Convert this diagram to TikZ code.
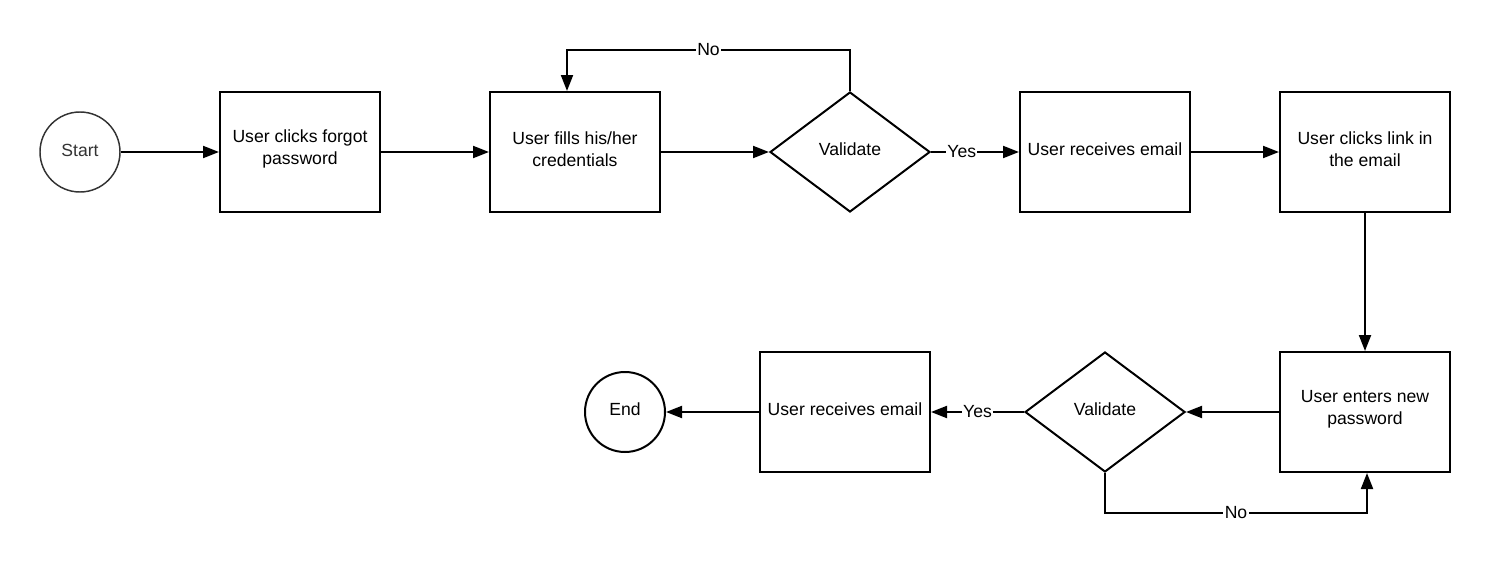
\documentclass[tikz,border=0pt]{standalone}
\usepackage{fontspec}
\setmainfont{Liberation Sans}
\usetikzlibrary{arrows.meta,shapes.geometric}
\definecolor{startgray}{HTML}{333333}
\begin{document}
\begin{tikzpicture}[x=0.75pt,y=-0.75pt,
  txt/.style={font=\fontsize{13.2}{16.5}\selectfont, inner sep=0pt},
  every node/.style={txt},
  % caption sits slightly above the shape's centre
  caption/.style={label={[txt, align=center, yshift=2.3pt]center:#1}},
  stepbox/.style={draw, line width=1.5pt, rectangle, minimum height=90pt},
  decide/.style={draw, line width=1.5pt, diamond, minimum width=120pt, minimum height=90pt},
  terminal/.style={draw, line width=1.5pt, circle, minimum size=60pt},
  flow/.style={line width=1.5pt, -{Triangle[length=12pt,width=9pt]}},
  tag/.style={fill=white, inner sep=1pt}]
  \useasboundingbox (0,0) rectangle (1490,564);

  % upper row
  \node[terminal, draw=startgray, line width=1.1pt,
        label={[txt, text=startgray, yshift=1.5pt]center:Start}] (start) at (80,152) {};
  \node[stepbox, minimum width=120pt, caption={User clicks forgot\\password}] (forgot) at (300,152) {};
  \node[stepbox, minimum width=127.5pt, caption={User fills his/her\\credentials}] (fill) at (575,152) {};
  \node[decide, caption=Validate] (val1) at (850,152) {};
  \node[stepbox, minimum width=127.5pt, caption={User receives email}] (recv1) at (1105,152) {};
  \node[stepbox, minimum width=127.5pt, caption={User clicks link in\\the email}] (link) at (1365,152) {};

  % lower row
  \node[stepbox, minimum width=127.5pt, caption={User enters new\\password}] (newpw) at (1365,412) {};
  \node[decide, caption=Validate] (val2) at (1105,412) {};
  \node[stepbox, minimum width=127.5pt, caption={User receives email}] (recv2) at (845,412) {};
  \node[terminal, caption=End] (end) at (625,412) {};

  \coordinate (noA) at (850,50);
  \coordinate (noB) at (567,50);
  \coordinate (noC) at (1105,513);
  \coordinate (noD) at (1367,513);

  \draw[flow] (start) -- (forgot);
  \draw[flow] (forgot) -- (fill);
  \draw[flow] (fill) -- (val1);
  \draw[flow] (val1.north) -- (noA) -- node[tag]{No} (noB) -- (noB |- fill.north);
  \draw[flow] (val1) -- node[tag, pos=0.35]{Yes} (recv1);
  \draw[flow] (recv1) -- (link);
  \draw[flow] (link) -- (newpw);
  \draw[flow] (newpw) -- (val2);
  \draw[flow] (val2) -- node[tag, pos=0.5]{Yes} (recv2);
  \draw[flow] (val2.south) -- (noC) -- node[tag]{No} (noD) -- (noD |- newpw.south);
  \draw[flow] (recv2) -- (end);
\end{tikzpicture}
\end{document}
